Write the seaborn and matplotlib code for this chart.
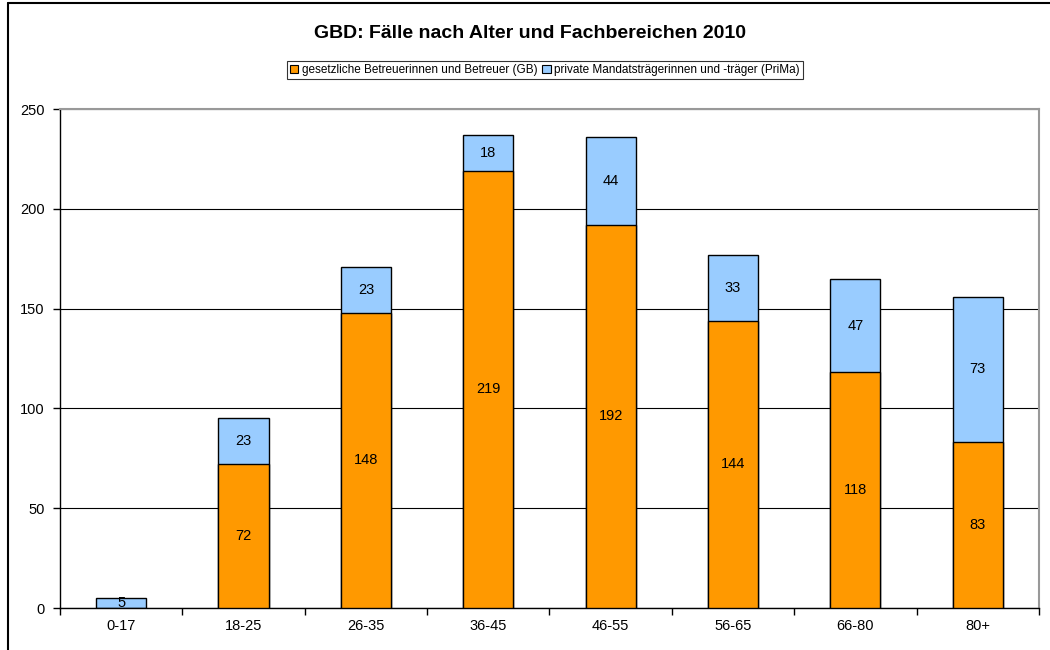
import matplotlib
import matplotlib.pyplot as plt
import numpy as np
import pandas as pd
import seaborn as sns
from matplotlib.patches import Rectangle

matplotlib.use("Agg")

# Data
age_groups = ["0-17", "18-25", "26-35", "36-45", "46-55", "56-65", "66-80", "80+"]
gb_values = [0, 72, 148, 219, 192, 144, 118, 83]
prima_values = [5, 23, 23, 18, 44, 33, 47, 73]

label_gb = "gesetzliche Betreuerinnen und Betreuer (GB)"
label_prima = "private Mandatsträgerinnen und -träger (PriMa)"

orange = "#FF9900"
blue = "#99CCFF"

sns.set_style("white")
plt.rcParams["font.family"] = ["Liberation Sans", "DejaVu Sans"]
plt.rcParams["text.color"] = "black"
plt.rcParams["xtick.color"] = "black"
plt.rcParams["ytick.color"] = "black"

df = pd.DataFrame({"age": age_groups, "gb": gb_values, "prima": prima_values})
df["total"] = df["gb"] + df["prima"]

fig = plt.figure(figsize=(10.5, 6.5), dpi=100)
ax = fig.add_axes([0.0571, 0.0646, 0.9324, 0.7677])

# total first (light blue), GB on top of it from zero -> stacked look
sns.barplot(data=df, x="age", y="total", color=blue, width=0.41,
            edgecolor="black", linewidth=1, saturation=1, ax=ax, zorder=3)
sns.barplot(data=df, x="age", y="gb", color=orange, width=0.41,
            edgecolor="black", linewidth=1, saturation=1, ax=ax, zorder=3)

for i, row in df.iterrows():
    if row["gb"] > 0:
        ax.text(i, row["gb"] / 2, str(row["gb"]), ha="center", va="center",
                fontsize=10.5, zorder=5)
    if row["prima"] > 0:
        ax.text(i, row["gb"] + row["prima"] / 2, str(row["prima"]),
                ha="center", va="center", fontsize=10.5, zorder=5)

ax.set_xlim(-0.5, len(age_groups) - 0.5)
ax.set_ylim(0, 250)
ax.set_yticks([0, 50, 100, 150, 200, 250])
ax.yaxis.grid(True, color="black", linewidth=0.8, zorder=0)
ax.set_axisbelow(True)
ax.set_xlabel("")
ax.set_ylabel("")

# ticks between categories
ax.set_xticks(np.arange(len(age_groups)))
ax.set_xticklabels(age_groups, fontsize=10.5)
ax.tick_params(axis="x", length=0, pad=8)
ax.set_xticks(np.arange(len(age_groups) + 1) - 0.5, minor=True)
ax.tick_params(axis="x", which="minor", length=5, width=1, color="black",
               direction="out", bottom=True)
ax.tick_params(axis="y", length=5, width=1, color="black", direction="out",
               left=True, labelsize=10.5, pad=6)

for side in ["left", "bottom"]:
    ax.spines[side].set_color("black")
    ax.spines[side].set_linewidth(1)
for side in ["top", "right"]:
    ax.spines[side].set_color("#999999")
    ax.spines[side].set_linewidth(1.5)

fig.suptitle("GBD: Fälle nach Alter und Fachbereichen 2010", fontsize=14,
             fontweight="bold", x=0.505, y=0.961)

handles = [Rectangle((0, 0), 1, 1, facecolor=orange, edgecolor="black", linewidth=0.8),
           Rectangle((0, 0), 1, 1, facecolor=blue, edgecolor="black", linewidth=0.8)]
leg = fig.legend(handles, [label_gb, label_prima], loc="center",
                 bbox_to_anchor=(0.519, 0.892), ncol=2, fontsize=8.5,
                 frameon=True, fancybox=False, handlelength=0.7,
                 handleheight=0.7, handletextpad=0.3, columnspacing=0.4,
                 borderpad=0.25, borderaxespad=0)
leg.get_frame().set_edgecolor("black")
leg.get_frame().set_linewidth(0.8)

# outer chart border (top and left visible in the reference)
fig.add_artist(plt.Line2D([0.0076, 0.0076], [0, 0.995], color="black",
                          linewidth=1.5, transform=fig.transFigure))
fig.add_artist(plt.Line2D([0.0076, 1.0], [0.995, 0.995], color="black",
                          linewidth=1.5, transform=fig.transFigure))

fig.savefig("out.png", dpi=100)
plt.close(fig)
